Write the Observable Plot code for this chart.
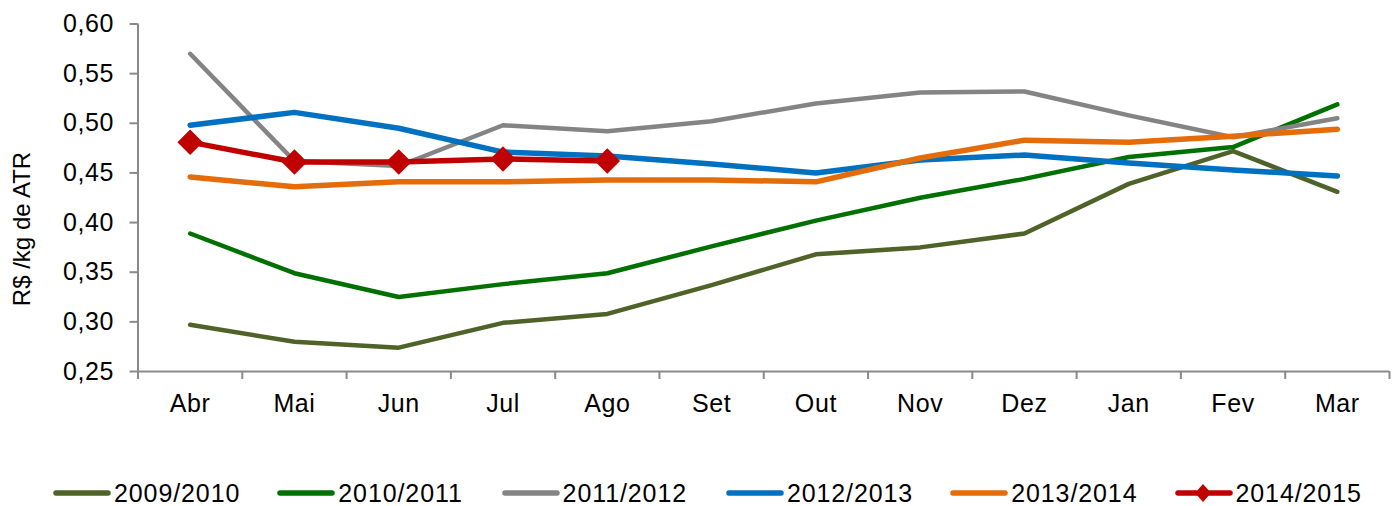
<!DOCTYPE html>
<html>
<head>
<meta charset="utf-8">
<script src="https://cdn.jsdelivr.net/npm/d3@7"></script>
<script src="https://cdn.jsdelivr.net/npm/@observablehq/plot@0.6"></script>
<style>
  html, body { margin: 0; padding: 0; background: #fff; }
  body { width: 1398px; height: 506px; position: relative; overflow: hidden; font-family: "Liberation Sans", Arial, sans-serif; }
  #chart { position: absolute; left: 0; top: 0; }
  #chart svg text { letter-spacing: 0.6px; }
  #ylabel { position: absolute; left: 22px; top: 229px; transform: translate(-50%, -50%) rotate(-90deg); font-size: 24px; white-space: nowrap; color: #000; }
  .item { position: absolute; top: 478px; height: 30px; display: flex; align-items: center; font-size: 25px; letter-spacing: 0.9px; color: #000; white-space: nowrap; }
  .item svg { display: block; margin-right: 2px; }
</style>
</head>
<body>
<div id="chart"></div>
<div id="ylabel">R$ /kg de ATR</div>
<div id="legend"></div>
<script>
const months = ["Abr","Mai","Jun","Jul","Ago","Set","Out","Nov","Dez","Jan","Fev","Mar"];
const yTicks = [0.25, 0.30, 0.35, 0.40, 0.45, 0.50, 0.55, 0.60];

const s0910 = [0.297,0.280,0.274,0.299,0.308,0.337,0.368,0.375,0.389,0.439,0.472,0.431];
const s1011 = [0.389,0.349,0.325,0.338,0.349,0.376,0.402,0.425,0.444,0.466,0.476,0.519];
const s1112 = [0.570,0.462,0.457,0.498,0.492,0.502,0.520,0.531,0.532,0.508,0.486,0.505];
const s1213 = [0.498,0.511,0.495,0.471,0.467,0.459,0.450,0.463,0.468,0.460,0.453,0.447];
const s1314 = [0.446,0.436,0.441,0.441,0.443,0.443,0.441,0.465,0.483,0.481,0.487,0.494];
const s1415 = [0.481,0.461,0.461,0.464,0.462];

const seriesNames = ["2009/2010","2010/2011","2011/2012","2012/2013","2013/2014","2014/2015"];
const seriesValues = [s0910, s1011, s1112, s1213, s1314, s1415];
const seriesColors = ["#4F6228","#007000","#848484","#0070C0","#E46C0A","#C00000"];
const seriesWidths = [4.5, 4.5, 4.5, 5.5, 5.5, 5.5];

const axisGray = "#8a8a8a";
const boundaries = d3.range(months.length + 1).map(i => i - 0.5);

const lineMarks = seriesValues.map((vals, k) =>
  Plot.lineY(vals, {x: (d, i) => i, y: d => d, stroke: seriesColors[k], strokeWidth: seriesWidths[k], strokeLinejoin: "round", strokeLinecap: "round"})
);

const chart = Plot.plot({
  width: 1398,
  height: 440,
  marginTop: 23.5,
  marginBottom: 69,
  marginLeft: 137.5,
  marginRight: 9,
  style: {fontFamily: "'Liberation Sans', Arial, sans-serif", fontSize: "25px", background: "white"},
  x: {type: "linear", domain: [-0.5, months.length - 0.5]},
  y: {domain: [0.25, 0.60]},
  marks: [
    Plot.ruleY([0.25], {stroke: axisGray, strokeWidth: 2}),
    Plot.ruleX([-0.5], {stroke: axisGray, strokeWidth: 2}),
    Plot.axisY({ticks: yTicks, tickSize: 8, tickPadding: 16, stroke: axisGray, strokeWidth: 2, fill: "black", fontSize: 25,
      tickFormat: d => d.toFixed(2).replace(".", ","), label: null}),
    Plot.axisX({ticks: boundaries, tickSize: 8, tickFormat: () => "", stroke: axisGray, strokeWidth: 2, label: null}),
    Plot.axisX({ticks: d3.range(months.length), tickSize: 0, tickPadding: 23, fill: "black", fontSize: 25,
      tickFormat: i => months[i], label: null}),
    ...lineMarks,
    Plot.dot(s1415, {x: (d, i) => i, y: d => d, symbol: "diamond2", r: 11.5, fill: "#C00000", stroke: "none"})
  ]
});
document.getElementById("chart").appendChild(chart);

const legend = document.getElementById("legend");
seriesNames.forEach((name, k) => {
  const item = document.createElement("div");
  item.className = "item";
  item.style.left = (52 + k * 224.3) + "px";
  const diamond = k === 5 ? `<path d="M29 1 L37 10 L29 19 L21 10 Z" fill="${seriesColors[k]}"/>` : "";
  item.innerHTML = `<svg width="60" height="20"><line x1="4" y1="10" x2="56" y2="10" stroke="${seriesColors[k]}" stroke-width="5.5" stroke-linecap="round"/>${diamond}</svg><span>${name}</span>`;
  legend.appendChild(item);
});
</script>
</body>
</html>
